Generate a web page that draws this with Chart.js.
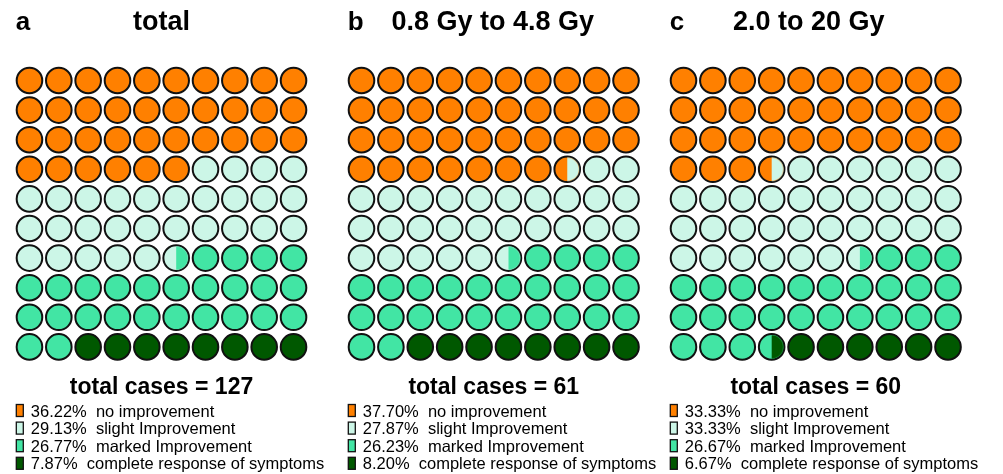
<!DOCTYPE html>
<html>
<head>
<meta charset="utf-8">
<script src="https://cdn.jsdelivr.net/npm/chart.js@4.4.1/dist/chart.umd.min.js"></script>
<style>
  body { margin: 0; background: #fff; width: 1003px; height: 474px; overflow: hidden; position: relative; }
  canvas { position: absolute; top: 0; }
</style>
</head>
<body>
<canvas id="panelA" width="333" height="474" style="left:0px"></canvas>
<canvas id="panelB" width="333" height="474" style="left:332px"></canvas>
<canvas id="panelC" width="333" height="474" style="left:654px"></canvas>
<script>
// data
const categories = ['no improvement', 'slight Improvement', 'marked Improvement', 'complete response of symptoms'];
const panelLetters = ['a', 'b', 'c'];
const panelTitles = ['total', '0.8 Gy to 4.8 Gy', '2.0 to 20 Gy'];
const totalCases = [127, 61, 60];
const pctTotal = [36.22, 29.13, 26.77, 7.87];
const pctLow = [37.70, 27.87, 26.23, 8.20];
const pctHigh = [33.33, 33.33, 26.67, 6.67];

const colors = ['#ff8000', '#ccf6e7', '#42e5a4', '#005800'];
const FONT = '"Liberation Sans", Arial, sans-serif';
const CELL = 29.6;
const R = 12.8;

// each cell is split in halves, boundaries rounded to the nearest half cell
function buildCells(pcts) {
    const bounds = [];
    let cum = 0;
    pcts.forEach(p => { cum += p; bounds.push(Math.round(cum * 2)); });
    bounds[bounds.length - 1] = 200;
    const catOf = h => bounds.findIndex(b => h < b);
    const cells = [];
    for (let i = 0; i < 100; i++) {
        cells.push({ x: i % 10, y: Math.floor(i / 10), left: catOf(2 * i), right: catOf(2 * i + 1) });
    }
    return cells;
}

// right half of a disc, sits inside the circle border
function rightHalf(col) {
    const c = document.createElement('canvas');
    c.width = 30; c.height = 30;
    const g = c.getContext('2d');
    g.beginPath();
    g.arc(15, 15, R - 1, -Math.PI / 2, Math.PI / 2);
    g.closePath();
    g.fillStyle = col;
    g.fill();
    return c;
}

const textPlugin = {
    id: 'panelText',
    afterDraw(chart, args, opts) {
        const ctx = chart.ctx;
        const area = chart.chartArea;
        const cx = (area.left + area.right) / 2;
        ctx.save();
        ctx.fillStyle = '#000';
        ctx.textBaseline = 'alphabetic';
        ctx.font = 'bold 26px ' + FONT;
        ctx.textAlign = 'left';
        ctx.fillText(opts.letter, area.left + 1, 30);
        ctx.font = 'bold 27px ' + FONT;
        ctx.textAlign = 'center';
        ctx.fillText(opts.title, cx + opts.titleShift, 30);
        ctx.font = 'bold 23px ' + FONT;
        ctx.fillText('total cases = ' + opts.total, cx, 394);
        ctx.font = '16.5px ' + FONT;
        ctx.textAlign = 'left';
        opts.pcts.forEach((p, k) => {
            const base = 416.5 + k * 17.6;
            ctx.fillStyle = colors[k];
            ctx.fillRect(area.left + 1.5, base - 12, 7, 12);
            ctx.strokeStyle = '#111';
            ctx.lineWidth = 1.3;
            ctx.strokeRect(area.left + 1.5, base - 12, 7, 12);
            ctx.fillStyle = '#000';
            ctx.fillText(p.toFixed(2) + '%  ' + categories[k], area.left + 16, base);
        });
        ctx.restore();
    }
};

function makePanel(id, idx, pcts, padLeft, titleShift) {
    const cells = buildCells(pcts);
    const datasets = categories.map((name, k) => {
        const mine = cells.filter(c => c.left === k);
        return {
            label: name,
            data: mine.map(c => ({ x: c.x, y: c.y })),
            pointStyle: 'circle',
            pointRadius: R,
            pointBackgroundColor: colors[k],
            pointBorderColor: '#111',
            pointBorderWidth: 2,
            clip: false,
            order: 2
        };
    });
    // split cells: the right half in the next category's colour
    const split = cells.filter(c => c.right !== c.left);
    datasets.push({
        label: 'split',
        data: split.map(c => ({ x: c.x, y: c.y })),
        pointStyle: split.map(c => rightHalf(colors[c.right])),
        pointRadius: R,
        clip: false,
        order: 1
    });
    new Chart(document.getElementById(id), {
        type: 'scatter',
        data: { datasets: datasets },
        options: {
            responsive: false,
            animation: false,
            events: [],
            layout: {
                padding: { left: padLeft, right: 333 - padLeft - CELL * 10, top: 65.7, bottom: 474 - 65.7 - CELL * 10 }
            },
            scales: {
                x: { display: false, min: -0.5, max: 9.5 },
                y: { display: false, min: -0.5, max: 9.5, reverse: true }
            },
            plugins: {
                legend: { display: false },
                tooltip: { enabled: false },
                panelText: { letter: panelLetters[idx], title: panelTitles[idx], total: totalCases[idx], pcts: pcts, titleShift: titleShift }
            }
        },
        plugins: [textPlugin]
    });
}

makePanel('panelA', 0, pctTotal, 12.2, 0);
makePanel('panelB', 1, pctLow, 12.7, -1);
makePanel('panelC', 2, pctHigh, 12.7, -7);
</script>
</body>
</html>
